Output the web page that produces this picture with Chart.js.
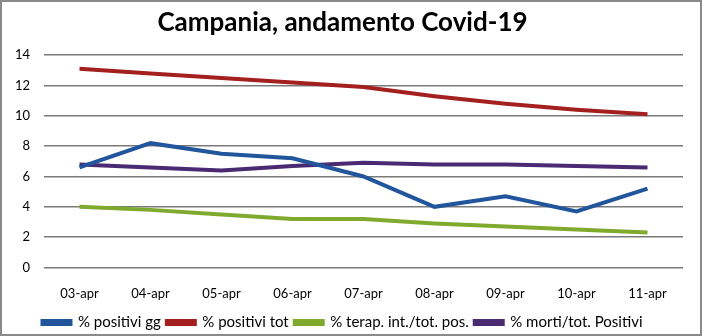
<!DOCTYPE html>
<html>
<head>
<meta charset="utf-8">
<script src="https://cdn.jsdelivr.net/npm/chart.js@4/dist/chart.umd.min.js"></script>
<style>
  html, body { margin: 0; padding: 0; background: #fff; }
  #wrap { width: 702px; height: 336px; box-sizing: border-box; border: 2px solid #8a8a8a; position: relative; }
</style>
</head>
<body>
<div id="wrap"><canvas id="covidChart"></canvas></div>
<script>
var giorni = ['03-apr', '04-apr', '05-apr', '06-apr', '07-apr', '08-apr', '09-apr', '10-apr', '11-apr'];
var positiviGg = [6.6, 8.2, 7.5, 7.2, 6.0, 4.0, 4.7, 3.7, 5.2];
var positiviTot = [13.1, 12.8, 12.5, 12.2, 11.9, 11.3, 10.8, 10.4, 10.1];
var terapInt = [4.0, 3.8, 3.5, 3.2, 3.2, 2.9, 2.7, 2.5, 2.3];
var mortiTot = [6.8, 6.6, 6.4, 6.7, 6.9, 6.8, 6.8, 6.7, 6.6];

function serie(label, data, color) {
    return {
        label: label,
        data: data,
        borderColor: color,
        backgroundColor: color,
        borderWidth: 4,
        pointRadius: 0,
        tension: 0,
        fill: false
    };
}

var ctx = document.getElementById('covidChart').getContext('2d');
var covidChart = new Chart(ctx, {
    type: 'line',
    data: {
        labels: giorni,
        datasets: [
            serie('% positivi gg', positiviGg, '#22569c'),
            serie('% positivi tot', positiviTot, '#a3201f'),
            serie('% terap. int./tot. pos.', terapInt, '#7faa2e'),
            serie('% morti/tot. Positivi', mortiTot, '#4a2a72')
        ]
    },
    options: {
        responsive: true,
        maintainAspectRatio: false,
        animation: false,
        layout: { padding: { left: 0, right: 17, top: 0, bottom: -6 } },
        plugins: {
            title: {
                display: true,
                text: 'Campania, andamento Covid-19',
                color: '#000',
                font: { family: 'Lato', size: 26, weight: 'bold' },
                padding: { top: 5, bottom: 17 }
            },
            legend: {
                position: 'bottom',
                labels: {
                    color: '#000',
                    font: { family: 'Lato', size: 15 },
                    boxWidth: 28,
                    boxHeight: 3,
                    padding: 6
                }
            },
            tooltip: { enabled: false }
        },
        scales: {
            x: {
                offset: true,
                grid: { display: false },
                border: { display: false },
                ticks: { color: '#000', font: { family: 'Lato', size: 13 }, padding: 11, maxRotation: 0 },
                afterFit: function(scale) { scale.height = 41.5; }
            },
            y: {
                min: 0,
                max: 14,
                ticks: { stepSize: 2, color: '#000', font: { family: 'Lato', size: 13 }, padding: 14 },
                grid: { color: '#7a7a7a', lineWidth: 1.5, drawTicks: false },
                border: { display: false },
                afterFit: function(scale) { scale.width = 42; }
            }
        }
    }
});
</script>
</body>
</html>
